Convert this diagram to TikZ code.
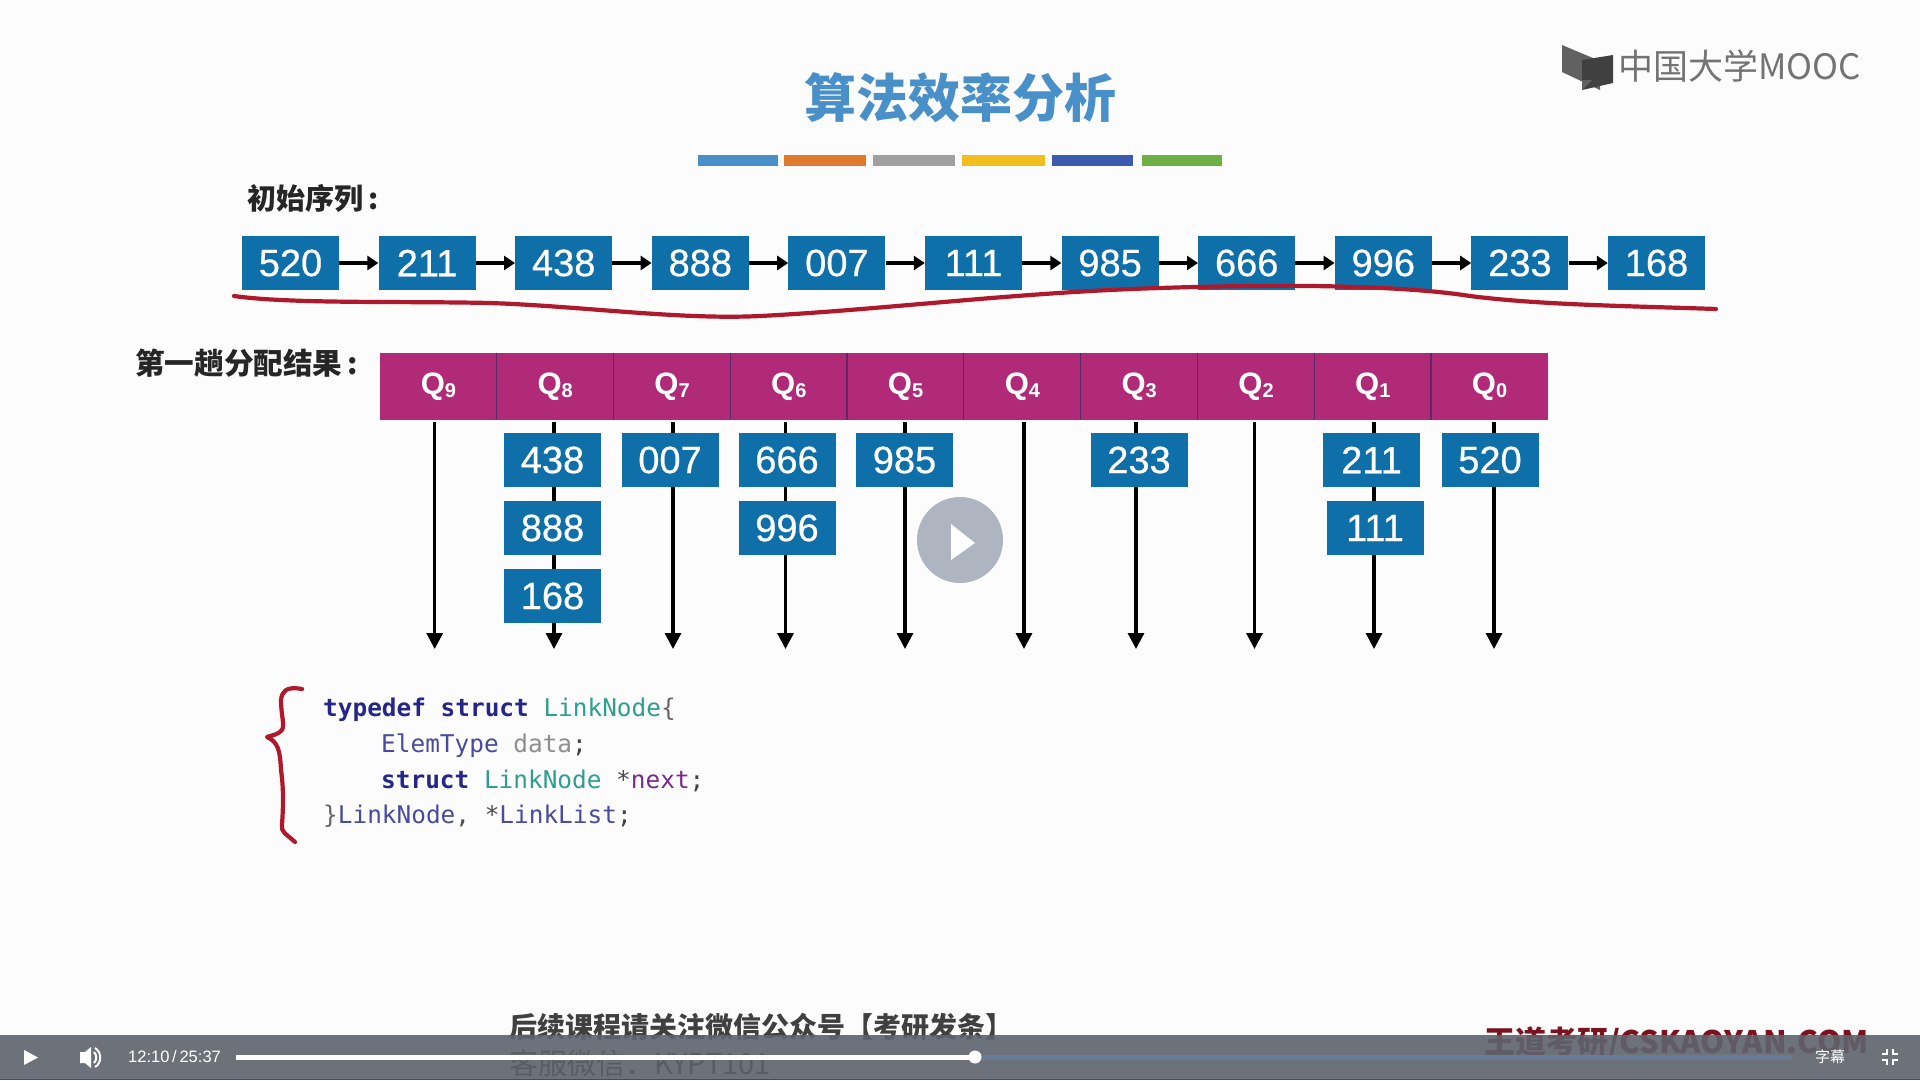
\documentclass[tikz,border=0pt]{standalone}
\usepackage{fontspec}
\setmainfont{Liberation Sans}
\newfontfamily\numfont[FakeBold=0.6]{Liberation Sans}
\newfontfamily\cjk{Noto Sans CJK SC}
\newfontfamily\codefont{DejaVu Sans Mono}
\usetikzlibrary{arrows.meta}
\definecolor{boxblue}{HTML}{0F6FA8}
\definecolor{qmag}{HTML}{B02A78}
\definecolor{qsep}{HTML}{5A2A6A}
\definecolor{titleblue}{HTML}{4A90C8}
\definecolor{inkred}{HTML}{AE1A2C}
\definecolor{barg}{HTML}{5E636C}
\definecolor{barblue}{HTML}{667C9A}
\definecolor{playgray}{HTML}{AEB5C0}
\definecolor{kwnavy}{HTML}{25258A}
\definecolor{typeteal}{HTML}{2F9E8F}
\definecolor{typeblue}{HTML}{4A4A9E}
\definecolor{vargray}{HTML}{8E8E8E}
\definecolor{fieldpurple}{HTML}{7A2A8A}
\newcommand{\fs}[1]{\fontsize{#1}{#1}\selectfont}
\tikzset{
  x=1pt,y=-1pt,
  seqbox/.style={fill=boxblue,text=white,minimum width=97pt,minimum height=54pt,inner sep=0pt,font=\numfont\fs{38}},
  qcell/.style={fill=qmag,text=white,minimum width=116.8pt,minimum height=67pt,inner sep=0pt,font=\fs{31}\bfseries},
  seqarrow/.style={-{Triangle[length=11pt,width=14pt]},line width=3.8pt,black},
  qarrow/.style={-{Triangle[length=16pt,width=16pt]},line width=3.2pt,black},
  lbl/.style={text=black!85,inner sep=0pt},
  code/.style={anchor=base west,inner sep=0pt,font=\codefont\fs{24.4}},
  ink/.style={draw=inkred,line width=4.2pt,line cap=round,line join=round},
  ctl/.style={text=white,inner sep=0pt}
}
\begin{document}
\begin{tikzpicture}
\useasboundingbox (0,0) rectangle (1920,1080);
\fill[white!99!black] (0,0) rectangle (1920,1080);
% title
\node[font=\cjk\bfseries\fs{52},text=titleblue,inner sep=0pt] (title) at (960,98) {算法效率分析};
\foreach \a/\b/\c in {698/778/4A90C8,784/866/DD7A30,873/955/A0A0A0,962/1045/F2BE1E,1052/1133/3B5BAF,1142/1222/6FB044}{
  \definecolor{tmp}{HTML}{\c}
  \fill[tmp] (\a,155) rectangle (\b,166);
}
% logo
\fill[black!62] (1562,45) -- (1600,61) -- (1600,90) -- (1562,72) -- cycle;
\fill[black!75] (1582,88) -- (1582,60) -- (1613,55) -- (1613,83) -- (1582,90) -- cycle;
\fill[black!62] (1582,80) -- (1592,80) -- (1582,90) -- cycle;
\node[font=\cjk\fs{35},text=black!55,inner sep=0pt,anchor=west] (logo) at (1618,66) {中国大学MOOC};
% labels
\node[lbl,font=\cjk\bfseries\fs{29},anchor=west] (lab1) at (247,198) {初始序列\,:};
\node[lbl,font=\cjk\bfseries\fs{29.6},anchor=west] (lab2) at (135,363) {第一趟分配结果\,:};
% initial sequence
\foreach \n [count=\i from 0] in {520,211,438,888,007,111,985,666,996,233,168}{
  \node[seqbox] (s\i) at ({290.5+136.6*\i},263) {\n};
}
\foreach \i [evaluate=\i as \j using int(\i+1)] in {0,...,9}{
  \draw[seqarrow] (s\i.east) -- (s\j.west);
}
% Q header
\foreach \d [count=\i from 0] in {9,8,7,6,5,4,3,2,1,0}{
  \node[qcell] (q\d) at ({438.4+116.8*\i},386.5) {\raisebox{-3pt}{Q\raisebox{-3pt}{\fs{20}\d}}};
}
\foreach \d in {8,7,6,5,4,3,2,1,0}{
  \draw[qsep,line width=1.2pt] (q\d.north west) -- (q\d.south west);
}
% arrows
\foreach \d/\x in {9/434.7,8/554,7/673,6/785.5,5/905,4/1024,3/1136,2/1254.5,1/1374,0/1494}{
  \coordinate (e\d) at (\x,649);
  \draw[qarrow] (e\d |- q\d.south) ++(0,2) -- (e\d);
}
% bucket boxes
\node[seqbox] (b1) at (552.5,460) {438};
\node[seqbox] (b2) at (552.5,528) {888};
\node[seqbox] (b3) at (552.5,596) {168};
\node[seqbox] (b4) at (670,460) {007};
\node[seqbox] (b5) at (787,460) {666};
\node[seqbox] (b6) at (787,528) {996};
\node[seqbox] (b7) at (904.5,460) {985};
\node[seqbox] (b8) at (1139,460) {233};
\node[seqbox] (b9) at (1371.5,460) {211};
\node[seqbox] (b10) at (1375,528) {111};
\node[seqbox] (b11) at (1490,460) {520};
% red underline
\draw[ink] (234,296) .. controls (290,304) and (400,301) .. (490,303)
  .. controls (580,306) and (680,320) .. (760,316)
  .. controls (880,310) and (1020,292) .. (1160,288)
  .. controls (1280,284) and (1400,285) .. (1470,296)
  .. controls (1540,305) and (1630,306) .. (1716,309);
% red brace
\draw[ink] (302,689) .. controls (285,686) and (282,692) .. (281,700)
  .. controls (281,715) and (285,725) .. (282,730)
  .. controls (278,735) and (272,735) .. (267,737)
  .. controls (278,742) and (280,750) .. (281,770)
  .. controls (284,790) and (283,810) .. (282,825)
  .. controls (281,832) and (285,833) .. (295,842);
% code
\node[code] (c1) at (323,716) {\textbf{\textcolor{kwnavy}{typedef struct}} \textcolor{typeteal}{LinkNode}\textcolor{black!60}{\{}};
\node[code] (c2) at (381,752) {\textcolor{typeblue}{ElemType} \textcolor{vargray}{data}\textcolor{black!75}{;}};
\node[code] (c3) at (381,788) {\textbf{\textcolor{kwnavy}{struct}} \textcolor{typeteal}{LinkNode} \textcolor{black!70}{*}\textcolor{fieldpurple}{next}\textcolor{black!75}{;}};
\node[code] (c4) at (323,823) {\textcolor{black!60}{\}}\textcolor{typeblue}{LinkNode}\textcolor{black!70}{, *}\textcolor{typeblue}{LinkList}\textcolor{black!75}{;}};
% play overlay
\fill[playgray] (960,540) circle (43);
\fill[white] (951,524) -- (975,543) -- (951,560) -- cycle;
% watermark
\node[font=\cjk\bfseries\fs{28},text=black!75,anchor=west,inner sep=0pt] (wm1) at (509,1027) {后续课程请关注微信公众号【考研发条】};
\node[font=\cjk\fs{29},text=black!85,anchor=west,inner sep=0pt] (wm2) at (509,1063) {客服微信：KYPT101};
\node[font=\cjk\bfseries\fs{31},text=inkred!70!black,anchor=west,inner sep=0pt] (wm3) at (1484,1043) {王道考研/CSKAOYAN.COM};
% player bar
\fill[barg,opacity=.9] (0,1035) rectangle (1920,1080);
\fill[black!70] (0,1079) rectangle (1920,1080);
\fill[white] (24,1050) -- (38,1057.5) -- (24,1065) -- cycle;
\fill[white] (80,1052) -- (85,1052) -- (91,1047) -- (91,1068) -- (85,1063) -- (80,1063) -- cycle;
\draw[white,line width=2pt] (94,1052) .. controls (97,1055) and (97,1060) .. (94,1063);
\draw[white,line width=2pt] (95,1048) .. controls (102,1052) and (102,1063) .. (95,1067);
\node[ctl,font=\fs{16.5},anchor=west] (time) at (128,1057) {12:10\,/\,25:37};
\fill[barblue] (975,1054.5) rectangle (1792,1059.5);
\fill[white] (236,1054.5) rectangle (975,1059.5);
\fill[white] (975,1057) circle (6.5);
\node[ctl,font=\cjk\fs{15}] (sub) at (1830,1057) {字幕};
\foreach \sx/\sy in {-1/-1,1/-1,-1/1,1/1}{
  \fill[white] ({1890+\sx*2},{1057+\sy*2}) rectangle ({1890+\sx*4},{1057+\sy*8});
  \fill[white] ({1890+\sx*2},{1057+\sy*2}) rectangle ({1890+\sx*8},{1057+\sy*4});
}
\end{tikzpicture}
\end{document}
